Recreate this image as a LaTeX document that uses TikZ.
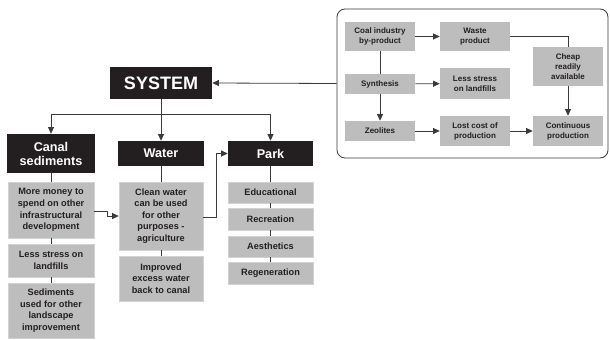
\documentclass[tikz,border=0pt]{standalone}
\usepackage{fontspec}
\setmainfont{Liberation Sans}
\usetikzlibrary{arrows.meta}
\definecolor{boxblack}{HTML}{231F20}
\definecolor{boxgray}{HTML}{BDBDBD}
\definecolor{boxedge}{HTML}{D2D2D2}
\definecolor{linecol}{HTML}{3A3A3A}
\begin{document}
\begin{tikzpicture}[x=0.75pt,y=-0.75pt,
  blackbox/.style={fill=boxblack,text=white,font=\bfseries\fontsize{9.5}{10.5}\selectfont,align=center,inner sep=0pt},
  graybox/.style={fill=boxgray,draw=boxedge,line width=0.4pt,text=boxblack,font=\bfseries\fontsize{6.9}{8.7}\selectfont,align=center,inner sep=0pt},
  smallbox/.style={fill=boxgray,text=boxblack,font=\bfseries\fontsize{6}{7.5}\selectfont,align=center,inner sep=0pt,minimum width=52.5pt},
  conn/.style={draw=linecol,line width=0.6pt},
  arr/.style={conn,-{Triangle[length=5pt,width=4.5pt]}}
]
\useasboundingbox (0,0) rectangle (610,339);
% right frame
\node[draw=linecol,line width=0.6pt,rounded corners=6pt,minimum width=203.25pt,minimum height=111.75pt,inner sep=0pt] (frame) at (472.5,83.5) {};
\node[smallbox,minimum height=21.75pt] (coal) at (380,36.5) {Coal industry\\by-product};
\node[smallbox,minimum height=21.75pt] (waste) at (475,36.5) {Waste\\product};
\node[smallbox,minimum height=15pt] (synth) at (380,84) {Synthesis};
\node[smallbox,minimum height=23.25pt] (lessr) at (475,83.5) {Less stress\\on landfills};
\node[smallbox,minimum height=15pt] (zeol) at (380,131) {Zeolites};
\node[smallbox,minimum height=22.5pt] (lost) at (475,131) {Lost cost of\\production};
\node[smallbox,minimum height=29.25pt] (cheap) at (568,66.5) {Cheap\\readily\\available};
\node[smallbox,minimum height=22.5pt] (cont) at (568,131) {Continuous\\production};
\draw[arr] (coal) -- (waste);
\draw[conn] (coal) -- (synth);
\draw[arr] (synth) -- (lessr);
\draw[arr] (synth) -- (zeol);
\draw[arr] (zeol) -- (lost);
\draw[arr] (lost) -- (cont);
\draw[conn] (waste.east) -| (cheap.north);
\draw[arr] (cheap) -- (cont);
% system
\node[blackbox,font=\bfseries\fontsize{13.5}{15}\selectfont,minimum width=76.5pt,minimum height=24pt] (system) at (161,83) {SYSTEM};
\draw[arr] (frame.west) -- (system.east);
\node[blackbox,minimum width=66pt,minimum height=29.25pt] (canal) at (51,153.5) {Canal\\sediments};
\node[blackbox,minimum width=64.5pt,minimum height=18.75pt] (water) at (161,153.5) {Water};
\node[blackbox,minimum width=63.75pt,minimum height=18.75pt] (park) at (270.5,153.5) {Park};
\coordinate (br) at (161,114);
\draw[arr] (system.south) -- (water.north);
\draw[arr] (br) -| (canal.north);
\draw[arr] (br) -| (park.north);
% canal column
\node[graybox,minimum width=64.5pt,minimum height=42pt] (money) at (51,210) {More money to\\spend on other\\infrastructural\\development};
\node[graybox,minimum width=64.5pt,minimum height=24.75pt] (lessl) at (51,260.5) {Less stress on\\landfills};
\node[graybox,minimum width=64.5pt,minimum height=41.25pt] (sedi) at (51,310.5) {Sediments\\used for other\\landscape\\improvement};
\draw[conn] (canal) -- (money);
\draw[conn] (money) -- (lessl);
\draw[conn] (lessl) -- (sedi);
% water column
\node[graybox,minimum width=63pt,minimum height=51pt] (clean) at (161,216) {Clean water\\can be used\\for other\\purposes -\\agriculture};
\node[graybox,minimum width=63pt,minimum height=33.75pt] (impr) at (161,278.5) {Improved\\excess water\\back to canal};
\draw[conn] (water) -- (clean);
\draw[conn] (clean) -- (impr);
% park column
\node[graybox,minimum width=63.75pt,minimum height=15.75pt] (edu) at (270.5,192.5) {Educational};
\node[graybox,minimum width=63.75pt,minimum height=16.5pt] (recr) at (270.5,219) {Recreation};
\node[graybox,minimum width=63.75pt,minimum height=15.75pt] (aest) at (270.5,246.5) {Aesthetics};
\node[graybox,minimum width=63.75pt,minimum height=16.5pt] (regen) at (270.5,273) {Regeneration};
\draw[conn] (park) -- (edu);
\draw[conn] (edu) -- (recr);
\draw[conn] (recr) -- (aest);
\draw[conn] (aest) -- (regen);
% cross links
\coordinate (m1) at (107,211);
\coordinate (m2) at (107,216);
\draw[arr] (money.east |- m1) -- (m1) -- (m2) -- (clean.west |- m2);
\coordinate (c1) at (216,217);
\draw[arr] (clean.east |- c1) -- (c1) |- (park.west);
\end{tikzpicture}
\end{document}
